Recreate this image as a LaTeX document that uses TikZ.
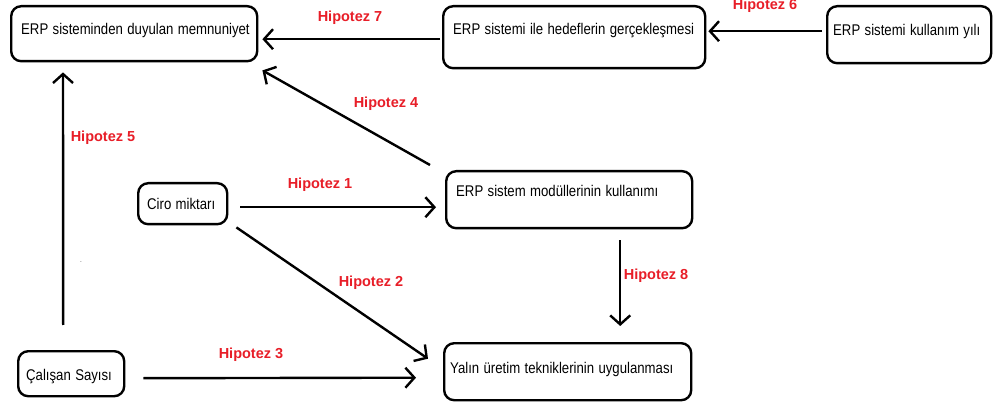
\documentclass[tikz,border=0pt]{standalone}
\usepackage{fontspec}
\setmainfont{Liberation Sans}
\usetikzlibrary{arrows.meta,calc}
\definecolor{hypred}{RGB}{232,30,40}
% condensed box lettering
\newcommand{\narrowtext}[1]{\scalebox{0.85}[1]{#1}}
\tikzset{
  box/.style={draw, line width=2.4pt, rounded corners=10pt, anchor=north west,
    inner xsep=10pt, inner ysep=0pt, align=left,
    font=\fontsize{15.5}{18}\selectfont},
  arr/.style={line width=2.4pt, -{Straight Barb[length=9pt,width=20pt,line width=2.4pt]}},
  hyp/.style={text=hypred, font=\bfseries\fontsize{14.5}{17}\selectfont, inner sep=0pt}
}
\begin{document}
\begin{tikzpicture}[x=1pt,y=-1pt]
  \useasboundingbox[fill=white] (0,0) rectangle (996,403);

  % variables
  \node[box, text width=226pt, text height=28pt, text depth=27pt] (memnun) at (10,5)
    {\narrowtext{ERP sisteminden duyulan memnuniyet}};
  \node[box, text width=242pt, text height=28pt, text depth=34pt] (hedef) at (442,5)
    {\narrowtext{ERP sistemi ile hedeflerin gerçekleşmesi}};
  \node[box, inner xsep=6pt, text width=152pt, text height=29pt, text depth=28pt] (yil) at (826,5)
    {\narrowtext{ERP sistemi kullanım yılı}};
  \node[box, inner xsep=9pt, text width=71pt, text height=26pt, text depth=15pt] (ciro) at (137,182)
    {\narrowtext{Ciro miktarı}};
  \node[box, text width=226pt, text height=25pt, text depth=32pt] (moduller) at (445,170)
    {\narrowtext{ERP sistem modüllerinin kullanımı}};
  \node[box, inner xsep=8pt, text width=90pt, text height=29pt, text depth=16pt] (calisan) at (17,350)
    {\narrowtext{Çalışan Sayısı}};
  \node[box, inner xsep=6pt, text width=235pt, text height=30pt, text depth=27pt] (yalin) at (443,342)
    {\narrowtext{Yalın üretim tekniklerinin uygulanması}};

  % hypotheses
  \draw[arr] ($(hedef.west)+(-2,2)$) -- ($(memnun.east)+(4,5.5)$);
  \draw[arr] ($(yil.west)+(-4,-3.5)$) -- ($(hedef.east)+(2,-6)$);
  \draw[arr] ($(moduller.north west)+(-15,-5)$) -- ($(memnun.south east)+(4,8)$);
  \draw[arr] ($(calisan.north)+(-8,-25)$) -- ($(memnun.south west)+(53,10)$);
  \draw[arr] ($(ciro.east)+(12,3.5)$) -- ($(moduller.west)+(-9,7.5)$);
  \draw[arr] ($(ciro.south east)+(8,2)$) -- ($(yalin.west)+(-15,-13)$);
  \draw[arr] ($(calisan.east)+(18,4.5)$) -- ($(yalin.west)+(-27,6)$);
  \draw[arr] ($(moduller.south)+(51,11)$) -- ($(yalin.north)+(52.5,-16)$);

  % hypothesis labels
  \node[hyp] (h7) at (350,18) {Hipotez 7};
  \node[hyp] (h6) at (765,6) {Hipotez 6};
  \node[hyp] (h4) at (386,104) {Hipotez 4};
  \node[hyp] (h5) at (103,138) {Hipotez 5};
  \node[hyp] (h1) at (320,185) {Hipotez 1};
  \node[hyp] (h2) at (371,283) {Hipotez 2};
  \node[hyp] (h3) at (251,355) {Hipotez 3};
  \node[hyp] (h8) at (656,276) {Hipotez 8};

  \node[inner sep=0pt, font=\fontsize{8}{9}\selectfont, text=gray] (mark) at (81,262) {.};
\end{tikzpicture}
\end{document}
